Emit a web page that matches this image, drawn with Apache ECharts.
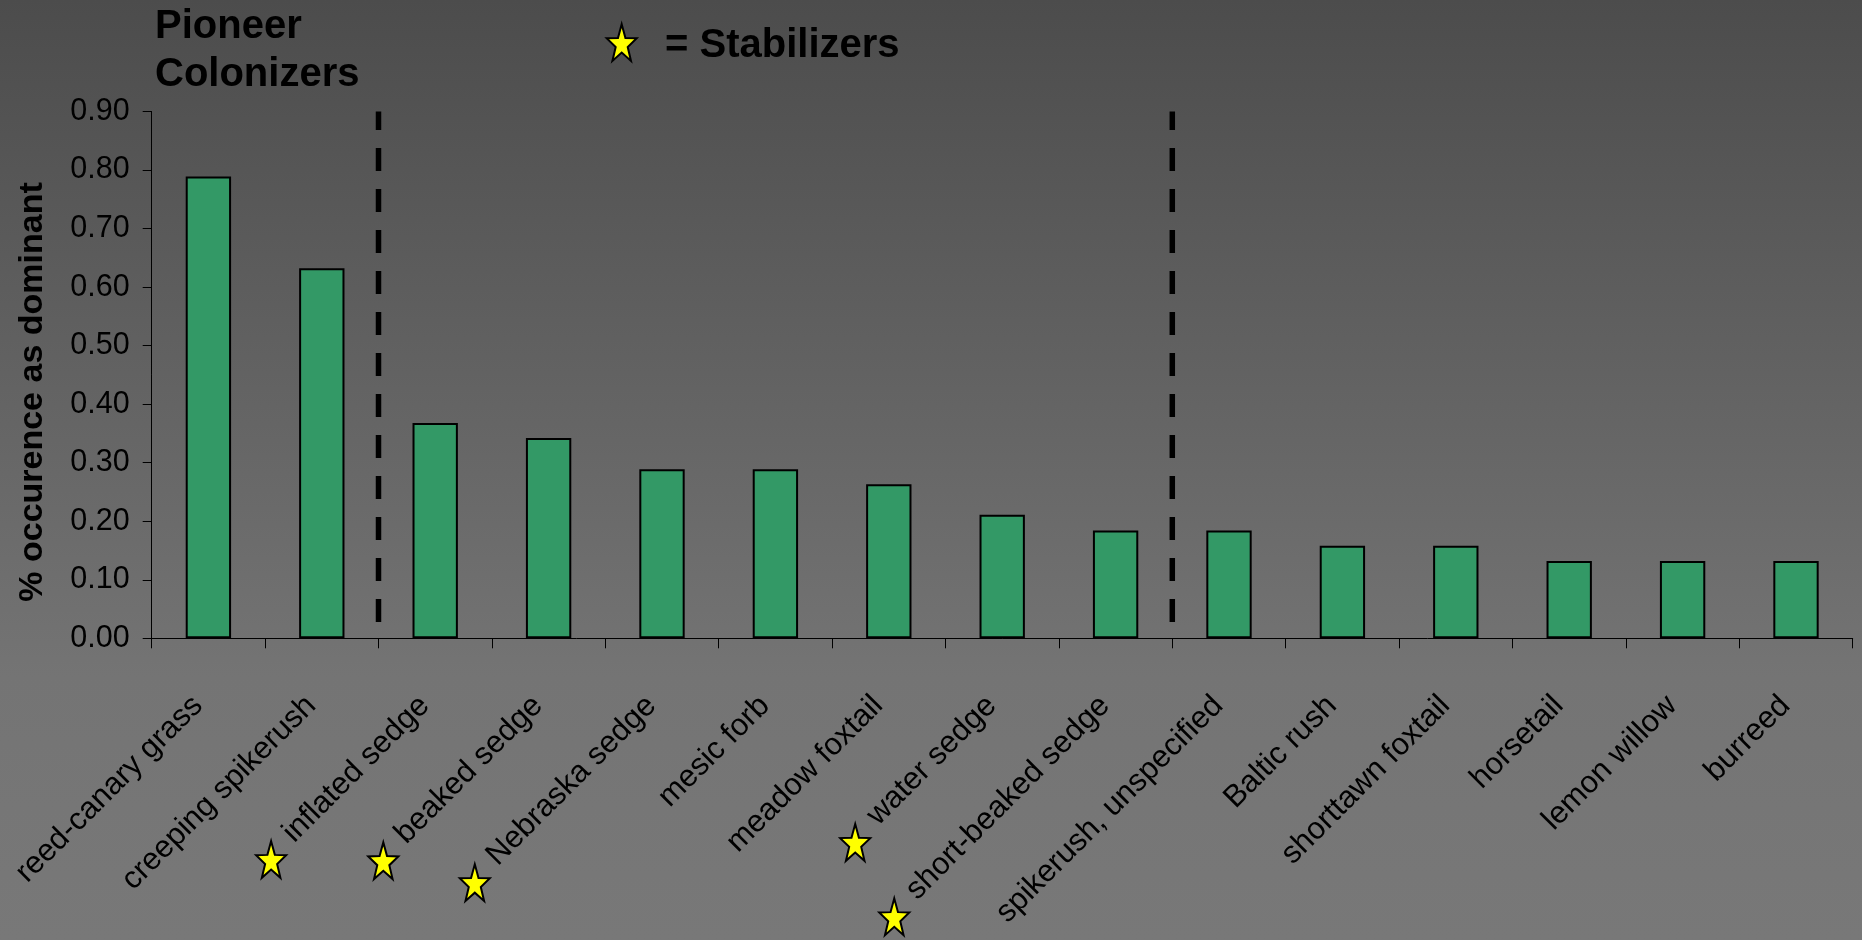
<!DOCTYPE html>
<html>
<head>
<meta charset="utf-8">
<title>% occurence as dominant</title>
<script src="https://cdn.jsdelivr.net/npm/echarts@6/dist/echarts.min.js"></script>
<style>
  html, body { margin: 0; padding: 0; }
  #chart {
    width: 1862px;
    height: 940px;
    background: linear-gradient(to bottom, #4c4c4c 0%, #747474 72%, #787878 100%);
  }
</style>
</head>
<body>
<div id="chart"></div>
<script>
// Species, ordered by how often each one was the dominant cover
const species = [
  'reed-canary grass', 'creeping spikerush', 'inflated sedge', 'beaked sedge',
  'Nebraska sedge', 'mesic forb', 'meadow foxtail', 'water sedge',
  'short-beaked sedge', 'spikerush, unspecified', 'Baltic rush',
  'shorttawn foxtail', 'horsetail', 'lemon willow', 'burreed'
];
// Share of sites where the species was dominant
const dominance = [
  0.789, 0.632, 0.368, 0.342, 0.289, 0.289, 0.263, 0.211,
  0.184, 0.184, 0.158, 0.158, 0.132, 0.132, 0.132
];
// Species flagged with a star as stabilizers
const stabilizers = ['inflated sedge', 'beaked sedge', 'Nebraska sedge', 'water sedge', 'short-beaked sedge'];
// Group dividers: category boundaries (after n categories) and their vertical extent
const groupBreaks = [2, 9];
const breakSpan = [0.028, 0.9];
// Value axis
const yMin = 0, yMax = 0.9, yStep = 0.1;

const FONT = '"Liberation Sans", Arial, Helvetica, sans-serif';
const TICK_SIZE = 30.5;
const CAT_SIZE = 31;
const LABEL_MARGIN = 52;
const LABEL_PAD = 15;

const chart = echarts.init(document.getElementById('chart'), null, { renderer: 'canvas' });

// Five-pointed star outline, a little taller than wide
function starPoints(cx, cy, rx, ry, inner) {
  const pts = [];
  for (let k = 0; k < 10; k++) {
    const a = -Math.PI / 2 + k * Math.PI / 5;
    const r = k % 2 === 0 ? 1 : inner;
    pts.push([cx + rx * r * Math.cos(a), cy + ry * r * Math.sin(a)]);
  }
  return pts;
}
function star(id, cx, cy) {
  return {
    id: id,
    type: 'polygon',
    z: 10,
    shape: { points: starPoints(cx, cy, 15.8, 20.3, 0.4) },
    style: { fill: '#ffff00', stroke: '#000', lineWidth: 2, lineJoin: 'miter' }
  };
}

const dividerSeries = groupBreaks.map((b, i) => ({
  name: 'divider' + i,
  type: 'line',
  xAxisIndex: 1,
  yAxisIndex: 0,
  symbol: 'none',
  silent: true,
  z: 5,
  lineStyle: { color: '#000', width: 5.5, type: [23, 18], cap: 'butt' },
  data: [[b, breakSpan[0]], [b, breakSpan[1]]]
}));

const baseGraphics = [
  {
    id: 'groupTitle',
    type: 'text',
    left: 155,
    top: 3,
    style: {
      text: 'Pioneer\nColonizers',
      font: 'bold 40px ' + FONT,
      lineHeight: 48,
      fill: '#000'
    }
  },
  star('keyStar', 621.7, 44.5),
  {
    id: 'keyText',
    type: 'text',
    left: 665,
    top: 25.5,
    style: {
      text: '= Stabilizers',
      font: 'bold 40px ' + FONT,
      fill: '#000'
    }
  },
  {
    id: 'yTitle',
    type: 'text',
    x: 33,
    y: 392,
    rotation: Math.PI / 2,
    style: {
      text: '% occurence as dominant',
      font: 'bold 34px ' + FONT,
      textAlign: 'center',
      textVerticalAlign: 'middle',
      fill: '#000'
    }
  }
];

chart.setOption({
  animation: false,
  backgroundColor: 'transparent',
  grid: {
    left: 151.7,
    right: 9.3,
    top: 111.5,
    bottom: 301.7,
    containLabel: false,
    outerBoundsMode: 'none'
  },
  xAxis: [
    {
      type: 'category',
      data: species,
      boundaryGap: true,
      axisLine: { show: true, lineStyle: { color: '#000', width: 1 } },
      axisTick: { show: true, inside: false, length: 10, interval: 0, alignWithLabel: false, lineStyle: { color: '#000', width: 1 } },
      axisLabel: {
        interval: 0,
        rotate: 45,
        margin: LABEL_MARGIN,
        padding: [0, LABEL_PAD, 0, 0],
        color: '#000',
        fontFamily: FONT,
        fontSize: CAT_SIZE,
        hideOverlap: false
      },
      splitLine: { show: false }
    },
    {
      type: 'value',
      min: 0,
      max: species.length,
      show: false
    }
  ],
  yAxis: {
    type: 'value',
    min: yMin,
    max: yMax,
    interval: yStep,
    axisLine: { show: true, lineStyle: { color: '#000', width: 1 } },
    axisTick: { show: true, inside: false, length: 9, lineStyle: { color: '#000', width: 1 } },
    axisLabel: {
      margin: 22,
      color: '#000',
      fontFamily: FONT,
      fontSize: TICK_SIZE,
      formatter: v => v.toFixed(2)
    },
    splitLine: { show: false }
  },
  series: [
    {
      name: 'dominance',
      type: 'bar',
      xAxisIndex: 0,
      yAxisIndex: 0,
      barWidth: '40%',
      data: dominance,
      itemStyle: { color: '#339966', borderColor: '#000', borderWidth: 2 }
    }
  ].concat(dividerSeries),
  graphic: { elements: baseGraphics }
});

// Stars sit just ahead of the start of each stabilizer's rotated label
const measureCtx = document.createElement('canvas').getContext('2d');
measureCtx.font = CAT_SIZE + 'px ' + FONT;
const axisY = chart.convertToPixel({ yAxisIndex: 0 }, 0);
const c45 = Math.SQRT1_2;
const starGraphics = stabilizers.map((name, i) => {
  const cx = chart.convertToPixel({ xAxisIndex: 0 }, name);
  const endX = cx - c45 * LABEL_PAD;
  const endY = axisY + LABEL_MARGIN + c45 * LABEL_PAD;
  const w = measureCtx.measureText(name).width;
  const startX = endX - c45 * w;
  const startY = endY + c45 * w;
  const back = 29, drop = 5;
  return star('stabilizerStar' + i,
    startX - c45 * back + c45 * drop,
    startY + c45 * back + c45 * drop);
});
chart.setOption({ graphic: { elements: starGraphics } });
</script>
</body>
</html>
